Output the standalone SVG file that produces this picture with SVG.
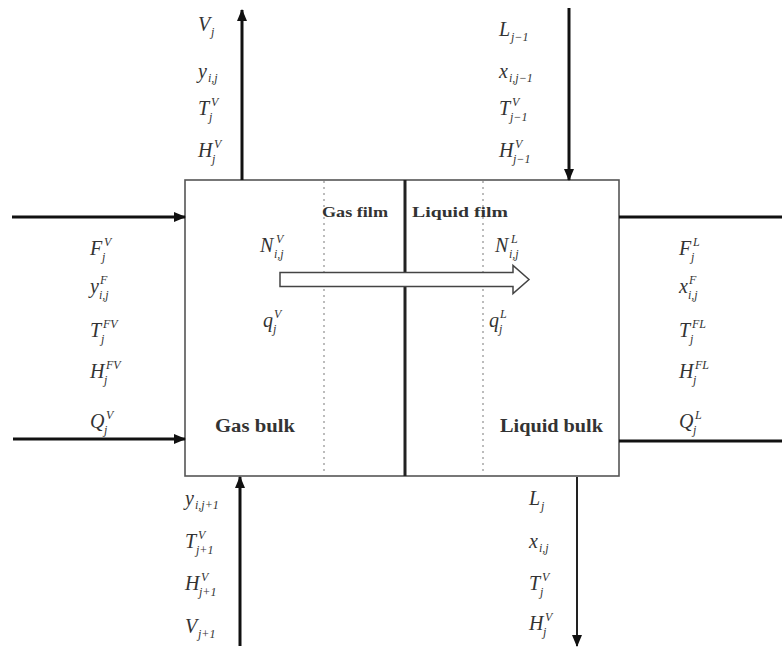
<svg xmlns="http://www.w3.org/2000/svg" width="782" height="648" viewBox="0 0 782 648">
<defs>
<style>
.m{font-family:"Liberation Serif","Times New Roman",serif;font-style:italic;font-size:20px;fill:#333}
.s{font-size:12px}
.b{font-family:"Liberation Serif","Times New Roman",serif;font-weight:bold;fill:#333}
.ar{stroke:#111;stroke-width:3;fill:none}
.dot{stroke:#999;stroke-width:1.3;stroke-dasharray:2 4}
</style>
<marker id="ah" markerUnits="userSpaceOnUse" markerWidth="12" markerHeight="10" refX="11" refY="5" orient="auto">
<path d="M0,0 L12,5 L0,10 Z" fill="#111"/>
</marker>
</defs>
<rect width="782" height="648" fill="#fff"/>

<g id="stage">
<rect x="185" y="180" width="434" height="296" fill="#fff" stroke="#555" stroke-width="1.6"/>
<line class="dot" x1="324" y1="181" x2="324" y2="475"/>
<line class="dot" x1="483" y1="181" x2="483" y2="475"/>
<line x1="405" y1="180" x2="405" y2="476" stroke="#222" stroke-width="3"/>
<text class="b" x="322" y="217" font-size="15" textLength="66" lengthAdjust="spacingAndGlyphs">Gas film</text>
<text class="b" x="412" y="217" font-size="15" textLength="96" lengthAdjust="spacingAndGlyphs">Liquid film</text>
<text class="b" x="215" y="432" font-size="18" textLength="80" lengthAdjust="spacingAndGlyphs">Gas bulk</text>
<text class="b" x="500" y="432" font-size="18" textLength="103" lengthAdjust="spacingAndGlyphs">Liquid bulk</text>
</g>

<g id="flux-arrow">
<path d="M280,272.5 L513,272.5 L513,265.5 L529,279.5 L513,293.5 L513,286.5 L280,286.5 Z" fill="#fff" stroke="#444" stroke-width="1.5"/>
</g>

<g id="connectors">
<line class="ar" x1="242" y1="180" x2="242" y2="10" marker-end="url(#ah)"/>
<line class="ar" x1="569" y1="8" x2="569" y2="180" marker-end="url(#ah)"/>
<line class="ar" x1="12" y1="217" x2="185" y2="217" marker-end="url(#ah)"/>
<line class="ar" x1="13" y1="439" x2="185" y2="439" marker-end="url(#ah)"/>
<line class="ar" x1="619" y1="217" x2="782" y2="217"/>
<line class="ar" x1="619" y1="441" x2="782" y2="441"/>
<line class="ar" x1="240" y1="646" x2="240" y2="477" marker-end="url(#ah)"/>
<line x1="577" y1="477" x2="577" y2="646" stroke="#222" stroke-width="2" marker-end="url(#ah)"/>
</g>

<g id="labels-top-left">
<text class="m" x="198" y="31">V<tspan class="s" x="211" dy="5">j</tspan></text>
<text class="m" x="198" y="78">y<tspan class="s" x="208" dy="4">i,j</tspan></text>
<text class="m" x="198" y="115">T<tspan class="s" x="211" dy="-9">V</tspan><tspan class="s" x="209" dy="15">j</tspan></text>
<text class="m" x="198" y="157">H<tspan class="s" x="214" dy="-9">V</tspan><tspan class="s" x="212" dy="15">j</tspan></text>
</g>

<g id="labels-top-right">
<text class="m" x="499" y="36">L<tspan class="s" x="511" dy="5">j−1</tspan></text>
<text class="m" x="499" y="78">x<tspan class="s" x="509" dy="4">i,j−1</tspan></text>
<text class="m" x="499" y="115">T<tspan class="s" x="512" dy="-9">V</tspan><tspan class="s" x="510" dy="15">j−1</tspan></text>
<text class="m" x="499" y="157">H<tspan class="s" x="515" dy="-9">V</tspan><tspan class="s" x="513" dy="15">j−1</tspan></text>
</g>

<g id="labels-left">
<text class="m" x="90" y="255">F<tspan class="s" x="104" dy="-9">V</tspan><tspan class="s" x="102" dy="15">j</tspan></text>
<text class="m" x="90" y="293">y<tspan class="s" x="100" dy="-9">F</tspan><tspan class="s" x="99" dy="15">i,j</tspan></text>
<text class="m" x="90" y="337">T<tspan class="s" x="103" dy="-9">FV</tspan><tspan class="s" x="101" dy="15">j</tspan></text>
<text class="m" x="90" y="378">H<tspan class="s" x="106" dy="-9">FV</tspan><tspan class="s" x="104" dy="15">j</tspan></text>
<text class="m" x="90" y="428">Q<tspan class="s" x="106" dy="-9">V</tspan><tspan class="s" x="104" dy="15">j</tspan></text>
</g>

<g id="labels-right">
<text class="m" x="679" y="255">F<tspan class="s" x="693" dy="-9">L</tspan><tspan class="s" x="691" dy="15">j</tspan></text>
<text class="m" x="679" y="293">x<tspan class="s" x="689" dy="-9">F</tspan><tspan class="s" x="688" dy="15">i,j</tspan></text>
<text class="m" x="679" y="337">T<tspan class="s" x="692" dy="-9">FL</tspan><tspan class="s" x="690" dy="15">j</tspan></text>
<text class="m" x="679" y="378">H<tspan class="s" x="695" dy="-9">FL</tspan><tspan class="s" x="693" dy="15">j</tspan></text>
<text class="m" x="679" y="428">Q<tspan class="s" x="695" dy="-9">L</tspan><tspan class="s" x="693" dy="15">j</tspan></text>
</g>

<g id="labels-bottom-left">
<text class="m" x="185" y="505">y<tspan class="s" x="195" dy="4">i,j+1</tspan></text>
<text class="m" x="185" y="548">T<tspan class="s" x="198" dy="-9">V</tspan><tspan class="s" x="196" dy="15">j+1</tspan></text>
<text class="m" x="185" y="590">H<tspan class="s" x="201" dy="-9">V</tspan><tspan class="s" x="199" dy="15">j+1</tspan></text>
<text class="m" x="185" y="633">V<tspan class="s" x="198" dy="5">j+1</tspan></text>
</g>

<g id="labels-bottom-right">
<text class="m" x="529" y="505">L<tspan class="s" x="541" dy="5">j</tspan></text>
<text class="m" x="529" y="548">x<tspan class="s" x="539" dy="4">i,j</tspan></text>
<text class="m" x="529" y="590">T<tspan class="s" x="542" dy="-9">V</tspan><tspan class="s" x="540" dy="15">j</tspan></text>
<text class="m" x="529" y="630">H<tspan class="s" x="545" dy="-9">V</tspan><tspan class="s" x="543" dy="15">j</tspan></text>
</g>

<g id="labels-inner">
<text class="m" x="260" y="252">N<tspan class="s" x="276" dy="-9">V</tspan><tspan class="s" x="274" dy="15">i,j</tspan></text>
<text class="m" x="495" y="252">N<tspan class="s" x="511" dy="-9">L</tspan><tspan class="s" x="509" dy="15">i,j</tspan></text>
<text class="m" x="263" y="327">q<tspan class="s" x="274" dy="-9">V</tspan><tspan class="s" x="273" dy="15">j</tspan></text>
<text class="m" x="489" y="327">q<tspan class="s" x="500" dy="-9">L</tspan><tspan class="s" x="499" dy="15">j</tspan></text>
</g>
</svg>
